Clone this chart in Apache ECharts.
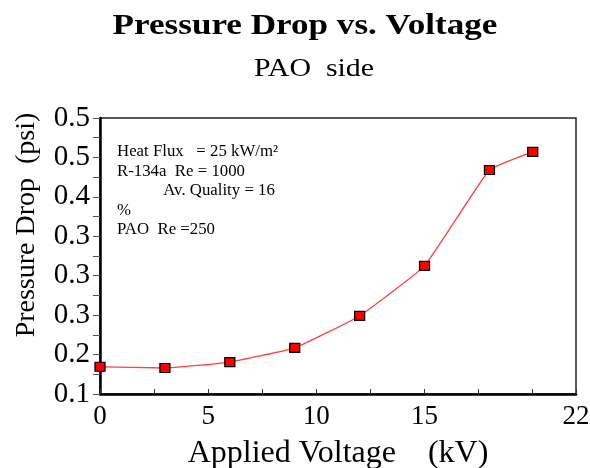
<!DOCTYPE html>
<html>
<head>
<meta charset="utf-8">
<script src="https://cdn.jsdelivr.net/npm/echarts@6/dist/echarts.min.js"></script>
<style>
  html, body { margin: 0; padding: 0; background: #fff; }
  #chart { width: 590px; height: 468px; }
</style>
</head>
<body>
<div id="chart"></div>
<script>
// voltage (kV)
var voltage = [0, 3, 6, 9, 12, 15, 18, 20];
// pressure drop, in y-tick steps above the bottom tick (0 = "0.1" line)
var dropSteps = [0.69, 0.66, 0.81, 1.17, 1.98, 3.25, 5.68, 6.14];
// y tick labels as printed on the original figure
var yTickLabels = ['0.1', '0.2', '0.3', '0.3', '0.3', '0.4', '0.5', '0.5'];
var xLabeled = [0, 5, 10, 15, 22];
var notes = ['Heat Flux   = 25 kW/m²', 'R-134a  Re = 1000', '           Av. Quality = 16', '%', 'PAO  Re =250'];

var serif = '"Liberation Serif", "Times New Roman", serif';

var chart = echarts.init(document.getElementById('chart'));

var pts = voltage.map(function (v, i) { return [v, dropSteps[i]]; });

// the original figure is a bit stretched sideways, so titles get scaleX
var graphics = [
  {
    type: 'text', x: 305, y: 26, scaleX: 1.17,
    style: { text: 'Pressure Drop vs. Voltage', font: 'bold 30px ' + serif, fill: '#000', align: 'center', verticalAlign: 'middle' }
  },
  {
    type: 'text', x: 314, y: 69, scaleX: 1.15,
    style: { text: 'PAO  side', font: '26px ' + serif, fill: '#000', align: 'center', verticalAlign: 'middle' }
  },
  {
    type: 'text', x: 27, y: 225, rotation: Math.PI / 2,
    style: { text: 'Pressure Drop  (psi)', font: '28px ' + serif, fill: '#000', align: 'center', verticalAlign: 'middle' }
  }
];
notes.forEach(function (t, i) {
  graphics.push({
    type: 'text', x: 117, y: 152 + i * 19.5, scaleX: 1.05,
    style: { text: t, font: '16px ' + serif, fill: '#000', verticalAlign: 'middle' }
  });
});

var option = {
  backgroundColor: '#fff',
  animation: false,
  grid: {
    left: 100, right: 14, top: 118, bottom: 74,
    outerBoundsMode: 'none',
    containLabel: false,
    show: true, borderColor: '#222', borderWidth: 1.5
  },
  xAxis: {
    type: 'value',
    min: 0, max: 22, interval: 2.5,
    name: 'Applied Voltage    (kV)',
    nameLocation: 'middle',
    nameGap: 44,
    nameTextStyle: { fontFamily: serif, fontSize: 32, color: '#000' },
    axisLine: { lineStyle: { color: '#000', width: 2.5 } },
    axisTick: { inside: true, length: 5, lineStyle: { color: '#333' } },
    axisLabel: {
      fontFamily: serif, fontSize: 27, color: '#000', margin: 9,
      showMaxLabel: true,
      formatter: function (v) { return xLabeled.indexOf(v) >= 0 ? String(v) : ''; }
    },
    splitLine: { show: false }
  },
  yAxis: {
    type: 'value',
    min: 0, max: 7, interval: 1,
    axisLine: { show: true, lineStyle: { color: '#000', width: 2.5 } },
    axisTick: { inside: false, length: 7, lineStyle: { color: '#555' } },
    minorTick: { show: true, splitNumber: 2, length: 7, lineStyle: { color: '#555' } },
    axisLabel: {
      fontFamily: serif, fontSize: 29, color: '#000', margin: 10,
      formatter: function (v) { return yTickLabels[Math.round(v)]; }
    },
    splitLine: { show: false }
  },
  series: [{
    type: 'line',
    data: pts,
    smooth: 0.1,
    symbol: 'rect',
    symbolSize: [10, 9],
    lineStyle: { color: '#ff4040', width: 1.3 },
    itemStyle: { color: '#ff0000', borderColor: '#000', borderWidth: 1.2 }
  }],
  graphic: graphics
};

chart.setOption(option);
</script>
</body>
</html>
